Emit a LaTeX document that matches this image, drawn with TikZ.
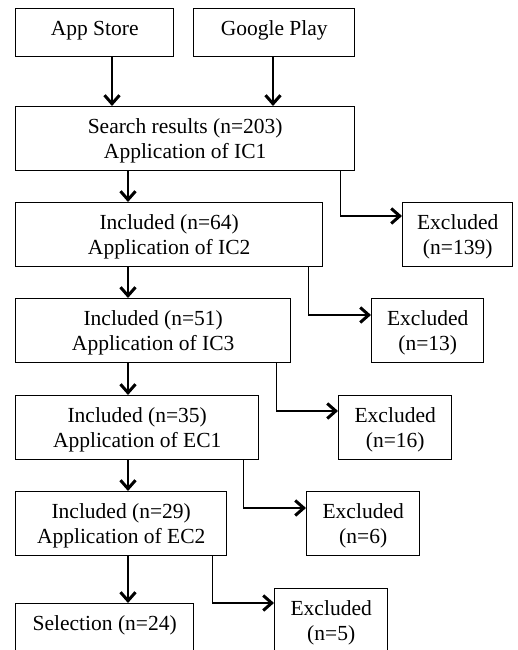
\documentclass[tikz,border=0pt]{standalone}
\usepackage{fontspec}
\setmainfont{Liberation Serif}
\usetikzlibrary{arrows.meta}
% centred lines of a box, aligned on the first baseline
\newcommand{\cellstack}[1]{\begin{tabular}[t]{@{}c@{}}#1\end{tabular}}

\begin{document}
\begin{tikzpicture}[x=1pt,y=-1pt,
  flowbox/.style={draw, line width=1.4pt, rectangle, anchor=north west,
    inner xsep=0pt, inner ysep=0pt, text height=26.5pt, text depth=37.5pt,
    font=\fontsize{21.5}{25}\selectfont},
  shortbox/.style={flowbox, text depth=21.5pt},
  flow/.style={line width=1.5pt,
    -{Straight Barb[length=8.5pt,width=15pt,line width=3pt]}}]

\useasboundingbox (0,0) rectangle (518,650);
\fill[white] (0,0) rectangle (518,650);
\clip (0,0) rectangle (518,650);

% sources
\node[shortbox, minimum width=158pt] (app)   at (15,8)  {\cellstack{App Store}};
\node[shortbox, minimum width=161pt] (gplay) at (193,8) {\cellstack{Google Play}};

% main column
\node[flowbox, minimum width=339pt] (search) at (15,106) {\cellstack{Search results (n=203)\\Application of IC1}};
\node[flowbox, minimum width=307pt] (inc64)  at (15,202) {\cellstack{Included (n=64)\\Application of IC2}};
\node[flowbox, minimum width=275pt] (inc51)  at (15,298) {\cellstack{Included (n=51)\\Application of IC3}};
\node[flowbox, minimum width=243pt] (inc35)  at (15,395) {\cellstack{Included (n=35)\\Application of EC1}};
\node[flowbox, minimum width=211pt] (inc29)  at (15,491) {\cellstack{Included (n=29)\\Application of EC2}};
\node[flowbox, minimum width=178pt] (sel)    at (15,603) {\cellstack{Selection (n=24)}};

% exclusions
\node[flowbox, minimum width=110pt] (exc139) at (402,202) {\cellstack{Excluded\\(n=139)}};
\node[flowbox, minimum width=112pt] (exc13)  at (371,298) {\cellstack{Excluded\\(n=13)}};
\node[flowbox, minimum width=113pt] (exc16)  at (338,395) {\cellstack{Excluded\\(n=16)}};
\node[flowbox, minimum width=113pt] (exc6)   at (306,491) {\cellstack{Excluded\\(n=6)}};
\node[flowbox, minimum width=113pt] (exc5)   at (274,588) {\cellstack{Excluded\\(n=5)}};

% arrow columns
\coordinate (appx) at (112,0);
\coordinate (gpx)  at (273,0);
\coordinate (col)  at (128,0);

\draw[flow] (app.south -| appx)   -- (search.north -| appx);
\draw[flow] (gplay.south -| gpx)  -- (search.north -| gpx);
\draw[flow] (search.south -| col) -- (inc64.north -| col);
\draw[flow] (inc64.south -| col)  -- (inc51.north -| col);
\draw[flow] (inc51.south -| col)  -- (inc35.north -| col);
\draw[flow] (inc35.south -| col)  -- (inc29.north -| col);
\draw[flow] (inc29.south -| col)  -- (sel.north -| col);

\draw[flow] ([xshift=-15pt]search.south east) |- ([yshift=-14pt]exc139.north west);
\draw[flow] ([xshift=-15pt]inc64.south east)  |- ([yshift=-17pt]exc13.north west);
\draw[flow] ([xshift=-15pt]inc51.south east)  |- ([yshift=-16pt]exc16.north west);
\draw[flow] ([xshift=-16pt]inc35.south east)  |- ([yshift=-17pt]exc6.north west);
\draw[flow] ([xshift=-15pt]inc29.south east)  |- ([yshift=-15pt]exc5.north west);
\end{tikzpicture}
\end{document}
